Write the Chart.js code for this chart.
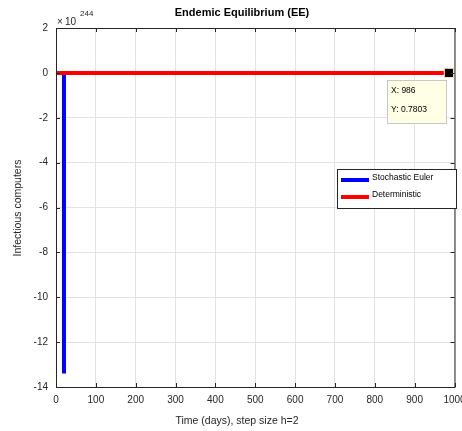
<!DOCTYPE html>
<html lang="en">
<head>
    <meta charset="UTF-8">
    <title>Endemic Equilibrium (EE)</title>
    <script src="https://cdn.jsdelivr.net/npm/chart.js"></script>
    <style>
        body { margin: 0; background: #fff; }
    </style>
</head>
<body>
<canvas id="eeChart" width="462" height="431"></canvas>

<script>
    // values are in units of 10^244
    const stochX = [0, 20, 20];
    const stochY = [0, 0, -13.4];
    const detX = [0, 986];
    const detY = [0, 0];
    const xTicks = [0, 100, 200, 300, 400, 500, 600, 700, 800, 900, 1000];
    const yTicks = [2, 0, -2, -4, -6, -8, -10, -12, -14];
    const tipX = 986;
    const tipY = '0.7803';

    const FONT = '"Liberation Sans", Arial, sans-serif';
    const AXIS_COLOR = '#262626';

    // titles, inward ticks, legend box and the data tip
    const matlabLook = {
        id: 'matlabLook',
        afterDraw(chart) {
            const ctx = chart.ctx;
            const area = chart.chartArea;
            const xs = chart.scales.x, ys = chart.scales.y;
            ctx.save();

            // box + inward ticks
            ctx.strokeStyle = AXIS_COLOR;
            ctx.lineWidth = 1;
            ctx.strokeRect(area.left + 0.5, area.top + 0.5, area.right - area.left, area.bottom - area.top);
            ctx.beginPath();
            xTicks.forEach(v => {
                const px = Math.round(xs.getPixelForValue(v)) + 0.5;
                ctx.moveTo(px, area.bottom); ctx.lineTo(px, area.bottom - 4);
                ctx.moveTo(px, area.top); ctx.lineTo(px, area.top + 4);
            });
            yTicks.forEach(v => {
                const py = Math.round(ys.getPixelForValue(v)) + 0.5;
                ctx.moveTo(area.left, py); ctx.lineTo(area.left + 4, py);
                ctx.moveTo(area.right, py); ctx.lineTo(area.right - 4, py);
            });
            ctx.stroke();

            // title
            ctx.fillStyle = '#000';
            ctx.textAlign = 'center';
            ctx.textBaseline = 'middle';
            ctx.font = 'bold 11px ' + FONT;
            ctx.fillText('Endemic Equilibrium (EE)', 242, 13);

            // exponent label
            ctx.fillStyle = AXIS_COLOR;
            ctx.textAlign = 'left';
            ctx.font = '10px ' + FONT;
            ctx.fillText('\u00d7', 57, 22);
            ctx.fillText('10', 65, 22);
            ctx.font = '8px ' + FONT;
            ctx.fillText('244', 80, 14);

            // axis titles
            ctx.font = '10.5px ' + FONT;
            ctx.textAlign = 'center';
            ctx.fillText('Time (days), step size h=2', 237, 421);
            ctx.save();
            ctx.translate(18, 208);
            ctx.rotate(-Math.PI / 2);
            ctx.fillText('Infectious computers', 0, 0);
            ctx.restore();

            // legend
            const lx = 337, ly = 169, lw = 119, lh = 39;
            ctx.fillStyle = '#fff';
            ctx.fillRect(lx, ly, lw, lh);
            ctx.strokeStyle = AXIS_COLOR;
            ctx.strokeRect(lx + 0.5, ly + 0.5, lw, lh);
            chart.data.datasets.forEach((ds, i) => {
                const yy = ly + 11 + i * 17;
                ctx.strokeStyle = ds.borderColor;
                ctx.lineWidth = 4;
                ctx.beginPath();
                ctx.moveTo(lx + 4, yy); ctx.lineTo(lx + 32, yy);
                ctx.stroke();
                ctx.fillStyle = '#000';
                ctx.font = '8.5px ' + FONT;
                ctx.textAlign = 'left';
                ctx.fillText(ds.label, lx + 35, yy - 2);
            });

            // data tip
            const tx = 387, ty = 80, tw = 59, th = 43;
            ctx.fillStyle = '#ffffe5';
            ctx.fillRect(tx, ty, tw, th);
            ctx.strokeStyle = '#c8c8c8';
            ctx.lineWidth = 1;
            ctx.strokeRect(tx + 0.5, ty + 0.5, tw, th);
            ctx.fillStyle = '#000';
            ctx.font = '8.5px ' + FONT;
            ctx.fillText('X: ' + tipX, tx + 4, ty + 11);
            ctx.fillText('Y: ' + tipY, tx + 4, ty + 30);
            ctx.restore();
        }
    };

    const ctx = document.getElementById('eeChart').getContext('2d');
    new Chart(ctx, {
        type: 'line',
        data: {
            datasets: [{
                label: 'Stochastic Euler',
                data: stochX.map((x, i) => ({ x: x, y: stochY[i] })),
                borderColor: '#0000ff',
                borderWidth: 4,
                pointRadius: 0,
                order: 1,
                fill: false
            }, {
                label: 'Deterministic',
                data: detX.map((x, i) => ({ x: x, y: detY[i] })),
                borderColor: '#ff0000',
                borderWidth: 4,
                pointStyle: 'rect',
                pointRadius: c => c.dataIndex === detX.length - 1 ? 6.5 : 0,
                pointBackgroundColor: '#000',
                pointBorderColor: '#f5f0b0',
                pointBorderWidth: 1,
                order: 0,
                fill: false
            }]
        },
        options: {
            responsive: false,
            animation: false,
            layout: { padding: { top: 28, right: 6, left: 0, bottom: 0 } },
            plugins: {
                legend: { display: false },
                tooltip: { enabled: false },
                title: { display: false }
            },
            scales: {
                x: {
                    type: 'linear',
                    min: 0, max: 1000,
                    afterBuildTicks: s => { s.ticks = xTicks.map(v => ({ value: v })); },
                    afterFit: s => { s.height = 44; s.paddingLeft = 0; s.paddingRight = 0; },
                    grid: { color: '#e3e3e3', drawTicks: false },
                    border: { display: false },
                    ticks: {
                        padding: 7, color: AXIS_COLOR, font: { family: FONT, size: 10 }, maxRotation: 0,
                        callback: v => String(v)
                    }
                },
                y: {
                    type: 'linear',
                    min: -14, max: 2,
                    afterBuildTicks: s => { s.ticks = yTicks.map(v => ({ value: v })); },
                    afterFit: s => { s.width = 56; s.paddingTop = 0; s.paddingBottom = 0; },
                    grid: { color: '#e3e3e3', drawTicks: false },
                    border: { display: false },
                    ticks: {
                        padding: 8, color: AXIS_COLOR, font: { family: FONT, size: 10 },
                        callback: v => String(v)
                    }
                }
            }
        },
        plugins: [matlabLook]
    });
</script>
</body>
</html>
